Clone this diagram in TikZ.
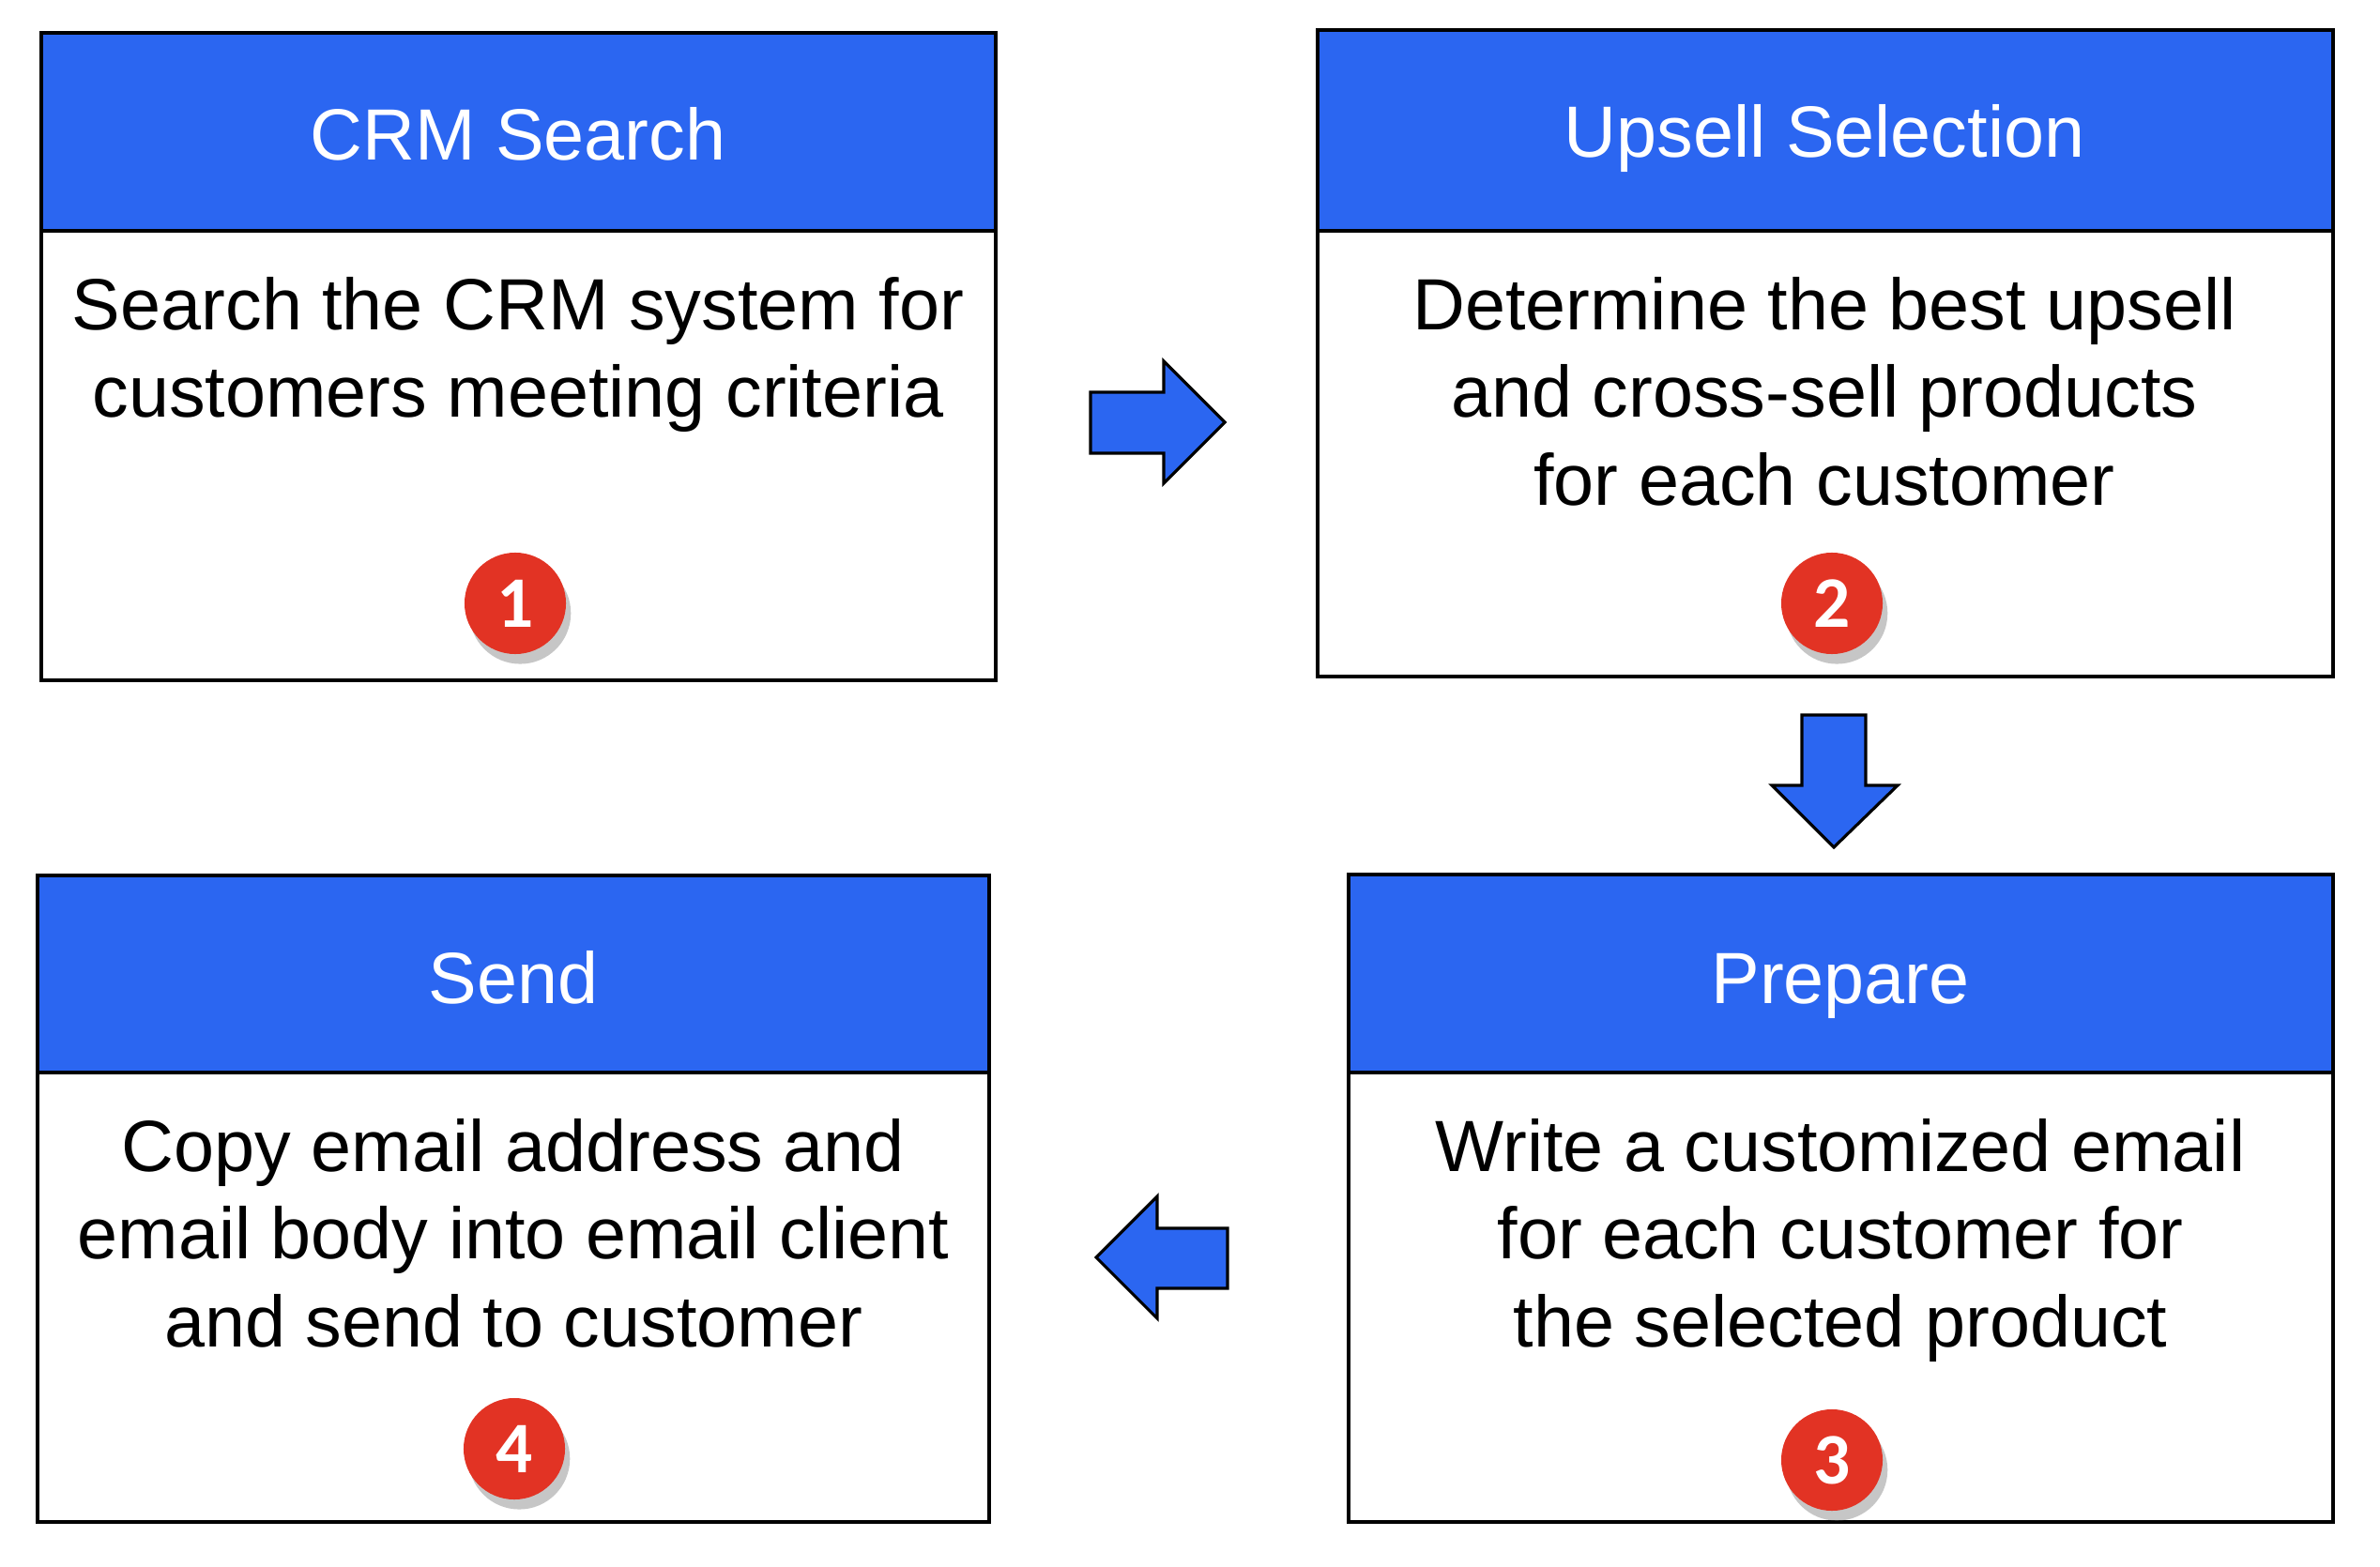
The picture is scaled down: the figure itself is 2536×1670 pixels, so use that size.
\documentclass[tikz,border=0pt]{standalone}
\usepackage{fontspec}
\setmainfont{Liberation Sans}
\newfontfamily\numfont{Carlito}
\usetikzlibrary{shadows}
\definecolor{hdrblue}{RGB}{43,102,241}
\definecolor{badgered}{RGB}{226,51,36}

\begin{document}
\begin{tikzpicture}[x=0.01cm,y=-0.01cm,
    box/.style={draw=black,line width=0.9pt},
    hdr/.style={fill=hdrblue,draw=black,line width=0.9pt},
    title/.style={text=white,font=\fontsize{22}{26}\selectfont,anchor=base,inner sep=0pt},
    body/.style={align=center,font=\fontsize{22}{26.5}\selectfont,anchor=north,inner sep=0pt},
    badge/.style={circle,fill=badgered,minimum size=1.08cm,inner sep=0pt,text=white,
        font=\numfont\bfseries\fontsize{22}{22}\selectfont,
        drop shadow={shadow xshift=1.5pt,shadow yshift=-3pt,opacity=0.45}},
    blockarrow/.style={fill=hdrblue,draw=black,line width=0.9pt,line join=miter}]
    \useasboundingbox (0,0) rectangle (2536,1670);
    % step 1
    \draw[box] (44,35) rectangle (1061,725);
    \draw[hdr] (44,35) rectangle (1061,246);
    \node[title] (crm) at (552,171) {CRM Search};
    \node[body] (crmtext) at (552,295) {Search the CRM system for\\customers meeting criteria};
    \node[badge] (one) at (549,643) {1};
    % step 2
    \draw[box] (1404,32) rectangle (2486,721);
    \draw[hdr] (1404,32) rectangle (2486,246);
    \node[title] (upsell) at (1944,168) {Upsell Selection};
    \node[body] (upselltext) at (1944,295) {Determine the best upsell\\and cross-sell products\\for each customer};
    \node[badge] (two) at (1952,643) {2};
    % step 3
    \draw[box] (1437,932) rectangle (2486,1622);
    \draw[hdr] (1437,932) rectangle (2486,1143);
    \node[title] (prepare) at (1961,1069) {Prepare};
    \node[body] (preparetext) at (1961,1192) {Write a customized email\\for each customer for\\the selected product};
    \node[badge] (three) at (1952,1556) {3};
    % step 4
    \draw[box] (40,933) rectangle (1054,1622);
    \draw[hdr] (40,933) rectangle (1054,1143);
    \node[title] (send) at (547,1069) {Send};
    \node[body] (sendtext) at (547,1192) {Copy email address and\\email body into email client\\and send to customer};
    \node[badge] (four) at (548,1544) {4};
    % arrows
    \draw[blockarrow] (1162,418) -- (1240,418) -- (1240,385) -- (1305,450)
        -- (1240,515) -- (1240,483) -- (1162,483) -- cycle;
    \draw[blockarrow] (1920,762) -- (1988,762) -- (1988,837) -- (2022,837)
        -- (1954,903) -- (1888,837) -- (1920,837) -- cycle;
    \draw[blockarrow] (1308,1309) -- (1233,1309) -- (1233,1275) -- (1168,1340)
        -- (1233,1405) -- (1233,1373) -- (1308,1373) -- cycle;
\end{tikzpicture}
\end{document}
